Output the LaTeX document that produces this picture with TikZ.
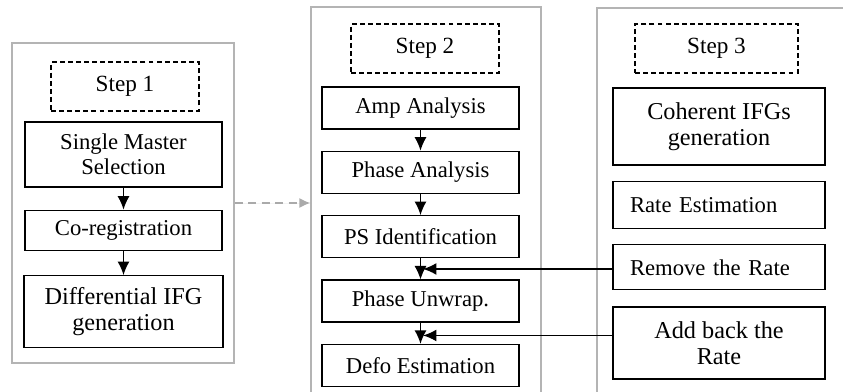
\documentclass[tikz,border=0pt]{standalone}
\usepackage{fontspec}
\setmainfont{Liberation Serif}
\usetikzlibrary{positioning,calc,arrows.meta}
\definecolor{framegray}{RGB}{180,180,180}
\definecolor{linkgray}{RGB}{170,170,170}

\begin{document}
\begin{tikzpicture}[x=0.02cm, y=0.02cm, node distance=0.42cm,
    frame/.style={rectangle, draw=framegray, line width=0.7pt},
    stepbox/.style={rectangle, draw, dash pattern=on 2.8pt off 1.8pt, line width=0.7pt, minimum width=2.96cm, minimum height=0.98cm, font=\fontsize{13.2}{15}\selectfont},
    box/.style={rectangle, draw, line width=0.8pt, minimum width=3.94cm, minimum height=0.84cm, align=center, inner sep=1pt, font=\fontsize{12.9}{14.2}\selectfont},
    bigbox/.style={box, font=\fontsize{13.8}{15}\selectfont},
    leftbox/.style={box, align=left, text width=3.56cm, inner xsep=0.34cm},
    arrow/.style={-{Latex[length=0.27cm,width=0.24cm]}, line width=0.8pt},
    linkarrow/.style={-{Latex[length=0.22cm,width=0.2cm]}, draw=linkgray, fill=linkgray, line width=0.9pt, dash pattern=on 0.16cm off 0.11cm}]

    \clip (0,0) rectangle (843,-392);

    % frames
    \node[frame, minimum width=4.44cm, minimum height=6.4cm] (frame1) at (123,-203) {};
    \node[frame, minimum width=4.6cm, minimum height=8.26cm] (frame2) at (426,-213.5) {};
    \node[frame, minimum width=5.86cm, minimum height=8.24cm] (frame3) at (743.5,-214) {};

    % step 1
    \node[stepbox] (step1) at (125,-86.5) {Step 1};
    \node[box, minimum height=1.3cm] (master) at (123.5,-154.5) {Single Master\\Selection};
    \node[box, minimum height=0.8cm, below=0.44cm of master] (coreg) {Co-registration};
    \node[bigbox, minimum width=3.98cm, minimum height=1.44cm, below=0.48cm of coreg] (diffifg) {Differential IFG\\generation};

    % step 2
    \node[stepbox] (step2) at (425,-48.5) {Step 2};
    \node[box] (amp) at (420.5,-108) {Amp Analysis};
    \node[box, below=of amp] (phase) {Phase Analysis};
    \node[box, below=of phase] (psid) {PS Identification};
    \node[box, below=of psid] (unwrap) {Phase Unwrap.};
    \node[box, below=of unwrap] (defo) {Defo Estimation};

    % step 3
    \node[stepbox, minimum width=3.26cm] (step3) at (716.5,-48.5) {Step 3};
    \node[bigbox, minimum width=4.24cm, minimum height=1.54cm] (coherent) at (719,-126.5) {Coherent IFGs\\generation};
    \node[leftbox, minimum height=0.94cm, below=0.3cm of coherent] (rate) {Rate Estimation};
    \node[leftbox, minimum height=0.9cm, below=0.3cm of rate] (remove) {Remove the Rate};
    \node[bigbox, minimum width=4.24cm, minimum height=1.44cm, below=0.32cm of remove] (addback) {Add back the\\Rate};

    \draw[arrow] (master) -- (coreg);
    \draw[arrow] (coreg) -- (diffifg);

    \draw[arrow] (amp) -- (phase);
    \draw[arrow] (phase) -- (psid);
    \draw[arrow] (psid) -- (unwrap);
    \draw[arrow] (unwrap) -- (defo);

    \coordinate (m1) at ($(psid.south)!0.5!(unwrap.north)$);
    \coordinate (m2) at ($(unwrap.south)!0.6!(defo.north)$);
    \draw[arrow] (remove.west |- m1) -- ([xshift=0.05cm]m1);
    \draw[arrow] (addback.west |- m2) -- ([xshift=0.05cm]m2);

    \draw[linkarrow] (frame1.east) -- (frame1.east -| frame2.west);
\end{tikzpicture}
\end{document}
